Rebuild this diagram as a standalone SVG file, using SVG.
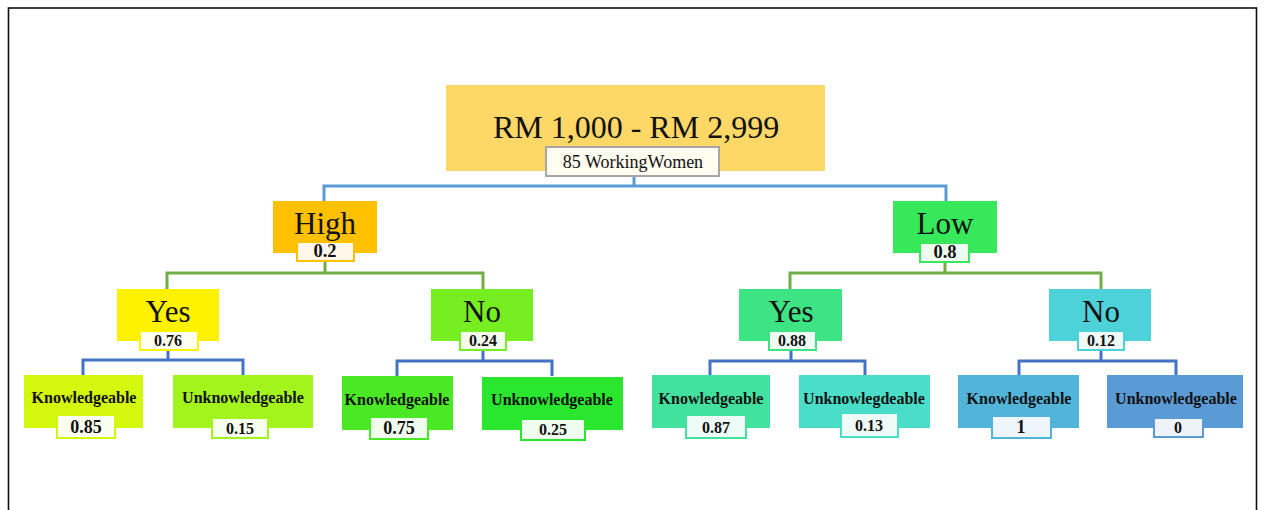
<svg xmlns="http://www.w3.org/2000/svg" width="1264" height="510" viewBox="0 0 1264 510">
<style>
.t{font-family:"Liberation Serif","Times New Roman",serif;fill:#111;text-anchor:middle}
.big{font-size:32px}
.mid{font-size:31px}
.sub{font-size:18px}
.lbl{font-size:16px;font-weight:bold}
.val{font-size:16px;font-weight:bold}
.val2{font-size:18.5px;font-weight:bold}
.valb{font-size:18px;font-weight:bold}
.c{fill:none;stroke-width:3}
.blue1{stroke:#5B9BD5}
.green{stroke:#70AD47}
.blue2{stroke:#4472C4}
</style>
<rect x="8.5" y="8" width="1248" height="510" fill="#fff" stroke="#111" stroke-width="1.6"/>
<g id="connectors">
<path class="c blue1" d="M634 176V186M324 201V186H946V201"/>
<path class="c green" d="M325 261V273M167 289V273H483V289"/>
<path class="c green" d="M945 262V273M790 289V273H1101V289"/>
<path class="c blue2" d="M168 350V360M83 376V360H243V376"/>
<path class="c blue2" d="M483 350V361M397 376V361H552V376"/>
<path class="c blue2" d="M791 350V361M710 376V361H865V376"/>
<path class="c blue2" d="M1101 350V361M1019 376V361H1176V376"/>
</g>
<g id="root">
<rect x="446" y="85" width="379" height="86" fill="#FDD866"/>
<text class="t big" x="636" y="138">RM 1,000 - RM 2,999</text>
<rect x="546" y="147" width="173" height="29" fill="#FFFCF0" stroke="#A6A6A6" stroke-width="2"/>
<text class="t sub" x="633" y="168">85 WorkingWomen</text>
</g>
<g id="high">
<rect x="273" y="201" width="104" height="52" fill="#FFC000"/>
<text class="t mid" x="325" y="234">High</text>
<rect x="297" y="242" width="57" height="19" fill="#FFF8EA" stroke="#FFC000" stroke-width="2"/>
<text class="t val2" x="325" y="257">0.2</text>
</g>
<g id="low">
<rect x="893" y="201" width="104" height="52" fill="#36E85A"/>
<text class="t mid" x="945" y="234">Low</text>
<rect x="920" y="243" width="49" height="19" fill="#EEFCF0" stroke="#36E85A" stroke-width="2"/>
<text class="t val2" x="945" y="258">0.8</text>
</g>
<g id="yes-high">
<rect x="117" y="289" width="102" height="52" fill="#FFF200"/>
<text class="t mid" x="168" y="322">Yes</text>
<rect x="140" y="331" width="58" height="19" fill="#FFFFF0" stroke="#FFF200" stroke-width="2"/>
<text class="t val" x="168" y="346">0.76</text>
</g>
<g id="no-high">
<rect x="431" y="289" width="102" height="52" fill="#76EE22"/>
<text class="t mid" x="482" y="322">No</text>
<rect x="460" y="331" width="46" height="19" fill="#F4FEEC" stroke="#76EE22" stroke-width="2"/>
<text class="t val" x="483" y="346">0.24</text>
</g>
<g id="yes-low">
<rect x="739" y="289" width="103" height="52" fill="#3EE384"/>
<text class="t mid" x="791" y="322">Yes</text>
<rect x="769" y="331" width="47" height="19" fill="#EEFCF4" stroke="#3EE384" stroke-width="2"/>
<text class="t val" x="792" y="346">0.88</text>
</g>
<g id="no-low">
<rect x="1049" y="289" width="102" height="52" fill="#4DD2DA"/>
<text class="t mid" x="1101" y="322">No</text>
<rect x="1078" y="331" width="46" height="19" fill="#EEFAFB" stroke="#4DD2DA" stroke-width="2"/>
<text class="t val" x="1101" y="346">0.12</text>
</g>
<g id="leaf1">
<rect x="24" y="375" width="119" height="53" fill="#D4F70E"/>
<text class="t lbl" x="84" y="403">Knowledgeable</text>
<rect x="57" y="415" width="58" height="23" fill="#FBFFF0" stroke="#D4F70E" stroke-width="2"/>
<text class="t valb" x="86" y="433">0.85</text>
</g>
<g id="leaf2">
<rect x="173" y="375" width="140" height="53" fill="#A3F31C"/>
<text class="t lbl" x="243" y="403">Unknowledgeable</text>
<rect x="212" y="418" width="56" height="20" fill="#F6FEEE" stroke="#A3F31C" stroke-width="2"/>
<text class="t val" x="240" y="434">0.15</text>
</g>
<g id="leaf3">
<rect x="342" y="376" width="111" height="54" fill="#4BE826"/>
<text class="t lbl" x="397" y="405">Knowledgeable</text>
<rect x="370" y="417" width="58" height="22" fill="#F0FDEE" stroke="#4BE826" stroke-width="2"/>
<text class="t valb" x="399" y="434">0.75</text>
</g>
<g id="leaf4">
<rect x="482" y="377" width="141" height="53" fill="#2AE62F"/>
<text class="t lbl" x="552" y="405">Unknowledgeable</text>
<rect x="521" y="419" width="64" height="21" fill="#EEFDEE" stroke="#2AE62F" stroke-width="2"/>
<text class="t val" x="553" y="435">0.25</text>
</g>
<g id="leaf5">
<rect x="652" y="375" width="118" height="53" fill="#42E29E"/>
<text class="t lbl" x="711" y="404">Knowledgeable</text>
<rect x="686" y="415" width="60" height="23" fill="#EEFBF6" stroke="#42E29E" stroke-width="2"/>
<text class="t val" x="716" y="433">0.87</text>
</g>
<g id="leaf6">
<rect x="799" y="375" width="131" height="53" fill="#4ADEC8"/>
<text class="t lbl" x="864" y="404">Unknowlegdeable</text>
<rect x="841" y="413" width="57" height="24" fill="#EEFBF9" stroke="#4ADEC8" stroke-width="2"/>
<text class="t val" x="869" y="431">0.13</text>
</g>
<g id="leaf7">
<rect x="958" y="375" width="121" height="53" fill="#52B4D8"/>
<text class="t lbl" x="1019" y="404">Knowledgeable</text>
<rect x="992" y="416" width="59" height="22" fill="#EEF6FB" stroke="#52B4D8" stroke-width="2"/>
<text class="t valb" x="1021" y="433">1</text>
</g>
<g id="leaf8">
<rect x="1107" y="375" width="136" height="53" fill="#5B9BD5"/>
<text class="t lbl" x="1176" y="404">Unknowledgeable</text>
<rect x="1154" y="418" width="49" height="19" fill="#EEF3FA" stroke="#5B9BD5" stroke-width="2"/>
<text class="t val" x="1178" y="433">0</text>
</g>
</svg>
